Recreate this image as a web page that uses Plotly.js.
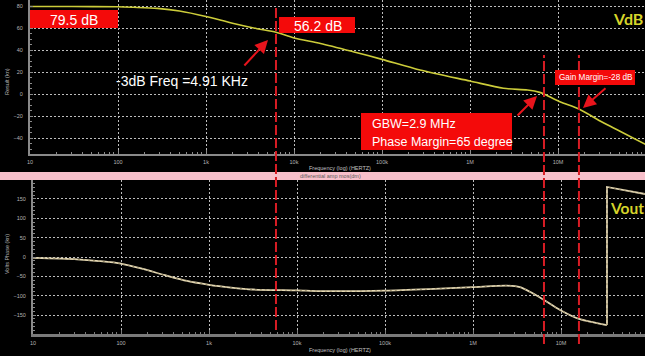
<!DOCTYPE html>
<html>
<head>
<meta charset="utf-8">
<script src="https://cdn.plot.ly/plotly-3.0.1.min.js"></script>
<style>
  html, body { margin: 0; padding: 0; background: #000; }
  #plot { width: 645px; height: 356px; }
</style>
</head>
<body>
<div id="plot"></div>
<script>
// Open-loop AC sweep of the differential amplifier: magnitude (dB) and phase (deg)

// Magnitude response
const magFreq = [10, 30, 100, 150, 280, 500, 1000, 2000, 3800, 6240, 10000, 20000, 47000,
                 100000, 270000, 1e6, 2.4e6, 4.5e6, 6.2e6, 6.93e6, 1.05e7, 1.73e7, 3.2e7, 5e7, 1e8];
const magDb = [79.5, 79.5, 79.3, 78.8, 77.8, 75.5, 70.5, 64.3, 59.4, 56.2, 51, 46, 38.5,
               31.5, 21.8, 11.8, 5.2, 3.6, 1.5, 0, -7, -13.6, -25.7, -33.6, -46];

// Phase response (wraps from -180 to +180 above 30 MHz)
const phaseFreq = [10, 31.6, 56.2, 100, 178, 316, 562, 1000, 1780, 3160, 10000, 18000, 100000, 316000,
                   1e6, 2.43e6, 3.42e6, 4.44e6, 6.4e6, 9.75e6, 1.6e7, 3.33e7, 3.33e7, 1e8];
const phaseDeg = [-2.5, -6, -10.5, -17, -31, -47, -62, -72, -79, -84, -86, -88, -87, -83,
                  -78, -74, -78, -90, -111, -137, -160, -176, 181, 161];

// Frequency axis ticks
const freqTicks = [10, 100, 1000, 1e4, 1e5, 1e6, 1e7, 1e8];
const freqTickText = ['10', '100', '1k', '10k', '100k', '1M', '10M', '100M'];

// Cursor frequencies: -3 dB point, unity-gain crossover, gain-margin point
const cursorFreqs = [6240, 6.93e6, 1.73e7];

// Annotation texts
const gainLabel = '79.5 dB';
const cursorLabel = '56.2 dB';
const bwLabel = '-3dB Freq =4.91 KHz';
const gbwLabel = 'GBW=2.9 MHz';
const pmLabel = 'Phase Margin=65 degree';
const gmLabel = 'Gain Margin=-28 dB';

// Minor tick positions (2..9 within each decade)
const minorFreq = [];
for (let d = 1; d < 8; d++) {
  for (let m = 2; m <= 9; m++) minorFreq.push(m * Math.pow(10, d));
}

// pixel -> paper helpers
const W = 645, H = 356;
const px = v => v / W;
const py = v => 1 - v / H;

const RED = '#f40a0a';
const LINE_RED = '#d81c24';
const AXIS_GREY = '#8a8a8a';
const GRID = '#bdbdbd';
const TICKFONT = { family: 'Liberation Sans, Arial, sans-serif', size: 5.5, color: '#b4b4b4' };

function freqAxis(domain, range, lw, color) {
  return {
    type: 'log', domain: domain, range: range,
    tickmode: 'array', tickvals: freqTicks, ticktext: freqTickText,
    showgrid: true, gridcolor: GRID, gridwidth: 1, griddash: '2px,2px',
    showline: true, linecolor: color, linewidth: lw,
    ticks: 'inside', ticklen: 4, tickcolor: color, tickwidth: 1,
    tickfont: TICKFONT, ticklabelstandoff: 1,
    minor: { tickmode: 'array', tickvals: minorFreq, ticks: 'inside', ticklen: 2,
             tickcolor: color, tickwidth: 1, showgrid: false },
    zeroline: false, fixedrange: true
  };
}

function valueAxis(domain, range, dtick, minorStep) {
  return {
    domain: domain, range: range, dtick: dtick, tick0: 0,
    showgrid: true, gridcolor: GRID, gridwidth: 1, griddash: '2px,2px',
    showline: true, linecolor: AXIS_GREY, linewidth: 2,
    ticks: 'inside', ticklen: 3, tickcolor: AXIS_GREY,
    tickfont: TICKFONT, ticklabelstandoff: 4,
    minor: { dtick: minorStep, ticks: 'inside', ticklen: 2, tickcolor: AXIS_GREY, showgrid: false },
    zeroline: false, fixedrange: true
  };
}

// split the phase trace at the ±180° wrap so the smooth part stays smooth
const wrapIdx = phaseFreq.findIndex((f, i) => i > 0 && f === phaseFreq[i - 1]);
const phaseSegments = [
  { x: phaseFreq.slice(0, wrapIdx), y: phaseDeg.slice(0, wrapIdx), shape: 'spline' },
  { x: phaseFreq.slice(wrapIdx - 1), y: phaseDeg.slice(wrapIdx - 1), shape: 'linear' }
];

const traces = [
  {
    x: magFreq, y: magDb, xaxis: 'x', yaxis: 'y', type: 'scatter', mode: 'lines',
    line: { color: '#cccc3a', width: 1.6, shape: 'spline', smoothing: 0.8 },
    hoverinfo: 'skip'
  }
];
phaseSegments.forEach(seg => {
  traces.push({
    x: seg.x, y: seg.y, xaxis: 'x2', yaxis: 'y2', type: 'scatter', mode: 'lines',
    line: { color: '#e4d8b4', width: 1.8, shape: seg.shape, smoothing: 0.7 },
    hoverinfo: 'skip'
  });
  traces.push({
    x: seg.x, y: seg.y, xaxis: 'x2', yaxis: 'y2', type: 'scatter', mode: 'lines',
    line: { color: '#8c7d58', width: 0.8, dash: '2px,3px', shape: seg.shape, smoothing: 0.7 },
    hoverinfo: 'skip'
  });
});

// separator band between the two panes
const shapes = [
  { type: 'rect', xref: 'paper', yref: 'paper', x0: 0, x1: 1, y0: py(180), y1: py(172),
    fillcolor: '#f7bfca', line: { width: 0 }, layer: 'above' }
];

// cursor lines
const cursorTops = [7, 55, 55];
const cursorBottoms = [330, 344, 344];
cursorFreqs.forEach((f, i) => {
  shapes.push({
    type: 'line', xref: 'x', yref: 'paper', x0: f, x1: f,
    y0: py(cursorBottoms[i]), y1: py(cursorTops[i]),
    line: { color: LINE_RED, width: 2, dash: '10px,3px' }, layer: 'above'
  });
});

// label boxes
const boxes = [
  [30, 118, 10, 28],
  [279, 355, 17, 33],
  [361, 512, 113, 150],
  [555, 635, 70, 85]
];
boxes.forEach(b => {
  shapes.push({
    type: 'rect', xref: 'paper', yref: 'paper',
    x0: px(b[0]), x1: px(b[1]), y0: py(b[3]), y1: py(b[2]),
    fillcolor: RED, line: { width: 0 }, layer: 'above'
  });
});

const F = 'Liberation Sans, Arial, sans-serif';
function txt(text, x, y, size, color, opts) {
  return Object.assign({
    text: text, xref: 'paper', yref: 'paper', x: px(x), y: py(y),
    xanchor: 'center', yanchor: 'middle', showarrow: false,
    font: { family: F, size: size, color: color }
  }, opts || {});
}
function arrow(tx, ty, hx, hy) {
  return {
    text: '', xref: 'paper', yref: 'paper', x: px(hx), y: py(hy),
    ax: tx - hx, ay: ty - hy, showarrow: true,
    arrowhead: 2, arrowsize: 1.3, arrowwidth: 2, arrowcolor: '#e8141c'
  };
}

const annotations = [
  txt(gainLabel, 74, 19.5, 14, '#ffffff'),
  txt(cursorLabel, 318, 25.5, 14, '#ffffff'),
  txt(bwLabel, 182, 81, 14, '#ffffff'),
  txt(gbwLabel, 370, 124, 12.5, '#ffffff', { xanchor: 'left' }),
  txt(pmLabel, 370, 142, 12.5, '#ffffff', { xanchor: 'left' }),
  txt(gmLabel, 596, 77.5, 8.2, '#ffffff'),
  txt('<b>VdB</b>', 628, 18, 16, '#d6d42a', { font: { family: 'Lato, sans-serif', size: 16, color: '#d6d42a' } }),
  txt('<b>Vout</b>', 627, 208, 15.5, '#d6d42a', { font: { family: 'Lato, sans-serif', size: 15.5, color: '#d6d42a' } }),
  txt('Frequency (log) (HERTZ)', 340, 168, 5.5, '#c0c0c0'),
  txt('Frequency (log) (HERTZ)', 340, 350, 5.5, '#c0c0c0'),
  txt('differential amp mos(dm)', 298, 176, 5.5, '#5a5a5a', { xanchor: 'left' }),
  txt('Result (kn)', 7, 82, 5.5, '#b4b4b4', { textangle: -90 }),
  txt('Volts Phase (kn)', 7, 254, 5.5, '#b4b4b4', { textangle: -90 }),
  arrow(243, 67, 268, 40),
  arrow(516, 117, 537, 96),
  arrow(607, 87, 583, 108)
];

const layout = {
  width: W, height: H,
  margin: { l: 0, r: 0, t: 0, b: 0 },
  paper_bgcolor: '#000000', plot_bgcolor: '#000000',
  showlegend: false,
  xaxis: Object.assign(freqAxis([30 / W, 1], [1, 1 + 615 / 88], 2, AXIS_GREY), { anchor: 'y' }),
  yaxis: Object.assign(valueAxis([py(154), 1], [-54.5, 85.45], 20, 5), { anchor: 'x' }),
  xaxis2: Object.assign(freqAxis([33 / W, 1], [1, 1 + 612 / 88], 3, '#7a7a7a'), { anchor: 'y2' }),
  yaxis2: Object.assign(valueAxis([py(334), py(180)], [-199, 199], 50, 10), { anchor: 'x2' }),
  shapes: shapes,
  annotations: annotations
};

Plotly.newPlot('plot', traces, layout, { staticPlot: true, displayModeBar: false });
</script>
</body>
</html>
